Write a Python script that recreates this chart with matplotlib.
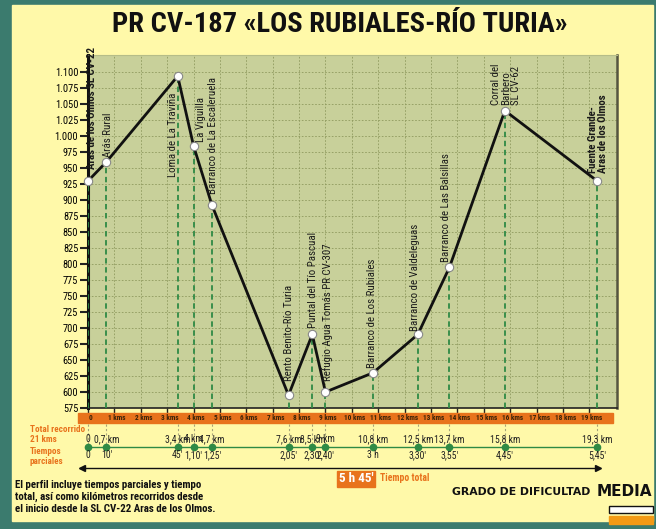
import matplotlib.pyplot as plt
from matplotlib import font_manager
from matplotlib.patches import Rectangle
from matplotlib.lines import Line2D
from matplotlib.transforms import Affine2D, blended_transform_factory
from matplotlib.ticker import FuncFormatter

# pick a narrow face if there is one
avail = {f.name for f in font_manager.fontManager.ttflist}
narrow = [f for f in ['Liberation Sans Narrow', 'Roboto Condensed', 'Liberation Sans'] if f in avail]
plt.rcParams['font.family'] = narrow[:1] + ['DejaVu Sans']

# Waypoints of the route
km = [0, 0.7, 3.4, 4.0, 4.7, 7.6, 8.5, 9.0, 10.8, 12.5, 13.7, 15.8, 19.3]
elev = [930, 960, 1094, 985, 892, 595, 690, 600, 630, 690, 795, 1040, 930]
names = ["Aras de los Olmos SL CV-22", "Arás Rural", "Loma de La Traviña",
         "La Viguilla", "Barranco de La Escaleruela", "Rento Benito-Río Turia",
         "Puntal del Tío Pascual", "Refugio Agua Tomás PR CV-307",
         "Barranco de Los Rubiales", "Barranco de Valdeleguas",
         "Barranco de Las Balsillas", "Corral del\nBarbero\nSL CV-62",
         "Fuente Grande-\nAras de los Olmos"]
km_labels = ["0", "0,7 km", "3,4 km", "4 km", "4,7 km", "7,6 km", "8,5 km",
             "9 km", "10,8 km", "12,5 km", "13,7 km", "15,8 km", "19,3 km"]
times = ["0", "10'", "45'", "1,10'", "1,25'", "2,05'", "2,30'", "2,40'",
         "3 h", "3,30'", "3,55'", "4,45'", "5,45'"]
km_ticks = list(range(0, 20))
elev_ticks = list(range(575, 1101, 25))

# label placement: (dx px, dy px, ha, va, bold)
label_pos = [(4, -12, 'center', 'bottom', True), (2, -5, 'center', 'bottom', False),
             (-5, 17, 'center', 'top', False), (7, -4, 'center', 'bottom', False),
             (1, -11, 'center', 'bottom', False), (0, -14, 'center', 'bottom', False),
             (1, -6, 'center', 'bottom', False), (2, -11, 'center', 'bottom', False),
             (-1, -5, 'center', 'bottom', False), (-3, -3, 'center', 'bottom', False),
             (-3, -5, 'center', 'bottom', False), (1, -6, 'center', 'bottom', False),
             (1, -8, 'center', 'bottom', True)]

TEAL = '#3b7b6e'
YELLOW = '#fff9a9'
PLOTBG = '#c8d09a'
ORANGE = '#e8731c'
GREEN = '#2f8a45'

W, H = 656, 529
fig = plt.figure(figsize=(W / 100, H / 100), dpi=100, facecolor=TEAL)
pix = Affine2D().scale(1 / W, -1 / H).translate(0, 1) + fig.transFigure


def fx(p):
    return p / W


def fy(p):
    return 1 - p / H


fig.add_artist(Rectangle((12, 5), 641, 516, transform=pix, color=YELLOW, zorder=0))

ax = fig.add_axes([fx(88), fy(408), fx(617) - fx(88), fy(55) - fy(408)])
ax.set_facecolor(PLOTBG)
ax.set_xlim(0, 20.05)
ax.set_ylim(575, 1127)

ax.set_xticks(km_ticks)
ax.set_xticklabels([])
ax.set_yticks(elev_ticks)
ax.yaxis.set_major_formatter(FuncFormatter(lambda v, p: f"{int(v):,}".replace(',', '.')))
ax.tick_params(axis='y', direction='out', length=6, width=1.5, labelsize=7.5, pad=1, color='#222')
ax.tick_params(axis='x', direction='out', length=5, width=1, color='#222')
ax.grid(True, color='#8f9a5f', lw=0.6, ls=(0, (2, 2)))
ax.set_axisbelow(True)

ax.spines['left'].set_linewidth(2.2)
ax.spines['left'].set_color('#111')
ax.spines['bottom'].set_linewidth(1.2)
ax.spines['bottom'].set_color('#222')
ax.spines['right'].set_linewidth(1.8)
ax.spines['right'].set_color('#555540')
ax.spines['top'].set_color('#b5bd88')
ax.spines['top'].set_linewidth(0.8)

ax.vlines(km, 575, elev, colors=GREEN, linestyles=(0, (3, 2)), lw=1.3, zorder=3)
ax.plot(km, elev, color='#111', lw=2, marker='o', ms=6, mfc='white',
        mec='#888', mew=0.8, zorder=5, clip_on=False)

for x, y, name, (dx, dy, ha, va, bold) in zip(km, elev, names, label_pos):
    ax.annotate(name, (x, y), xytext=(dx, -dy), textcoords='offset pixels',
                rotation=90, ha=ha, va=va, fontsize=7.8, multialignment='left',
                fontweight='bold' if bold else 'normal', color='#1a1a1a',
                annotation_clip=False, zorder=6, linespacing=1.0)

# lower strip: x from the data, y in pixels
xpix = blended_transform_factory(ax.transData, pix)

fig.add_artist(Rectangle((78, 413), 535, 10, transform=pix, color=ORANGE, zorder=2))
for k in km_ticks:
    fig.text(k + 0.1, 418, "0" if k == 0 else f"{k} kms", transform=xpix, ha='center',
             va='center', fontsize=5.2, fontweight='bold', color='#3a2208', zorder=3)

for x in km:
    fig.add_artist(Line2D([x, x], [424, 446], transform=xpix, color='#a8a47a',
                          lw=0.8, ls=(0, (2, 2)), zorder=1))

fig.add_artist(Line2D([km[0], km[-1]], [447, 447], transform=xpix, color=GREEN, lw=1, zorder=2))
fig.add_artist(Line2D(km, [447] * len(km), transform=xpix, color=GREEN, lw=0,
                      marker='o', ms=4.5, zorder=3))
for x, lab, t in zip(km, km_labels, times):
    fig.text(x, 439, lab, transform=xpix, ha='center', va='center', fontsize=7, color='#222')
    fig.text(x, 455, t, transform=xpix, ha='center', va='center', fontsize=7, color='#222')

for txt, yy in [("Total recorrido", 430), ("21 kms", 439), ("Tiempos", 452), ("parciales", 462)]:
    fig.text(30, yy, txt, transform=pix, ha='left', va='center',
             fontsize=6.6, fontweight='bold', color=ORANGE)

fig.add_artist(Line2D([80, 598], [468, 468], transform=pix, color='#111', lw=1))
fig.add_artist(Line2D([82], [468], transform=pix, marker='<', ms=5, color='#111', lw=0))
fig.add_artist(Line2D([598], [468], transform=pix, marker='>', ms=5, color='#111', lw=0))

fig.add_artist(Rectangle((337, 471), 38, 16, transform=pix, color=ORANGE, zorder=2))
fig.text(356, 479, "5 h 45'", transform=pix, ha='center', va='center',
         fontsize=9.5, fontweight='bold', color='white', zorder=3)
fig.text(380, 478, "Tiempo total", transform=pix, ha='left', va='center',
         fontsize=7, fontweight='bold', color=ORANGE)

para = ["El perfil incluye tiempos parciales y tiempo",
        "total, así como kilómetros recorridos desde",
        "el inicio desde la SL CV-22 Aras de los Olmos."]
for line, yy in zip(para, [485, 497, 509]):
    fig.text(15, yy, line, transform=pix, ha='left', va='center',
             fontsize=7.8, fontweight='bold', color='#111')

fig.text(452, 492, "GRADO DE DIFICULTAD", transform=pix, ha='left', va='center',
         fontsize=7.8, fontweight='bold', color='#111', family='DejaVu Sans')
fig.text(597, 491, "MEDIA", transform=pix, ha='left', va='center',
         fontsize=11, fontweight='bold', color='#111', family='DejaVu Sans')
fig.add_artist(Rectangle((609, 506), 44, 7, transform=pix, facecolor='white',
                         edgecolor='#111', lw=1))
fig.add_artist(Rectangle((609, 516), 44, 8, transform=pix, color='#f29a16'))

fig.text(340, 25, "PR CV-187 «LOS RUBIALES-RÍO TURIA»", transform=pix, ha='center',
         va='center', fontsize=20.5, fontweight='bold', color='#111')

fig.savefig('out.png', dpi=100, facecolor=TEAL)
